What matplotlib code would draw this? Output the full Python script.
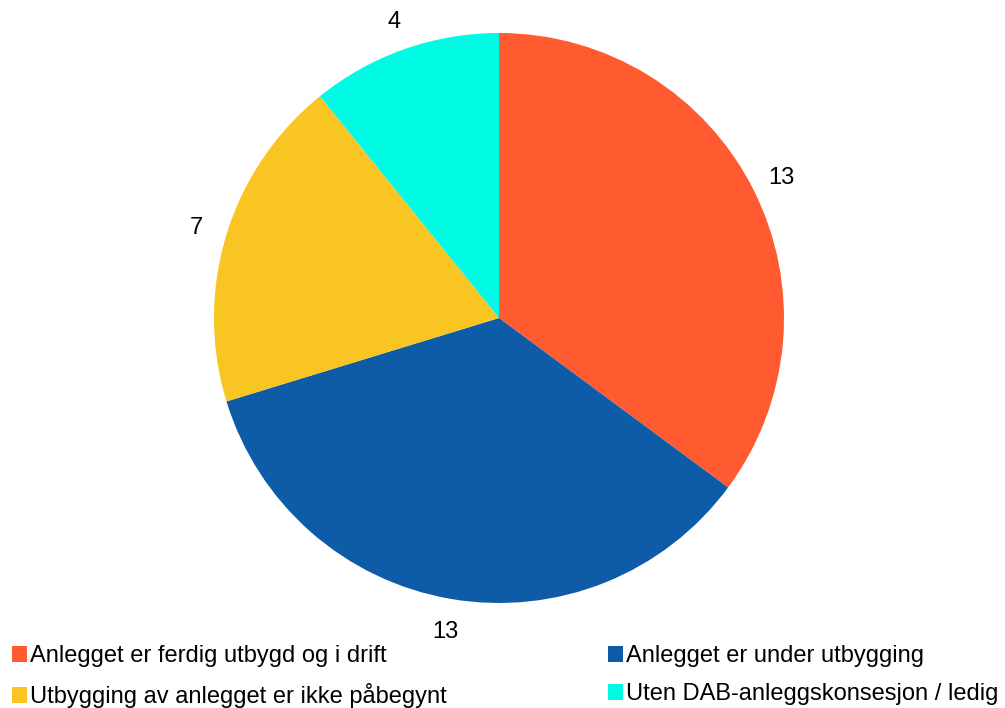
import matplotlib
matplotlib.use("Agg")
import matplotlib.pyplot as plt
from matplotlib.patches import Patch

plt.rcParams['font.family'] = ['Liberation Sans', 'DejaVu Sans']

categories = ["Anlegget er ferdig utbygd og i drift",
              "Anlegget er under utbygging",
              "Utbygging av anlegget er ikke påbegynt",
              "Uten DAB-anleggskonsesjon / ledig"]
values = [13, 13, 7, 4]
colors = ["#FF5A30", "#0E5CA8", "#F8C523", "#00FBE5"]

W, H = 1005, 708
fig = plt.figure(figsize=(W / 100, H / 100), dpi=100)
cx, cy, r = 499, 318, 285
ax = fig.add_axes([(cx - r) / W, (H - cy - r) / H, 2 * r / W, 2 * r / H])
ax.pie(values, colors=colors, startangle=90, counterclock=False,
       labels=[str(v) for v in values], labeldistance=1.11,
       textprops={'fontsize': 17, 'color': '#000000'},
       wedgeprops={'linewidth': 0})
ax.set_xlim(-1, 1)
ax.set_ylim(-1, 1)
ax.set_aspect('equal')
ax.axis('off')
for t in ax.texts:
    t.set_horizontalalignment('center')
    t.set_verticalalignment('center_baseline')

order = [0, 2, 1, 3]
handles = [Patch(facecolor=colors[i], edgecolor='none') for i in order]
labels = [categories[i] for i in order]
fig.legend(handles, labels, loc='upper left', bbox_to_anchor=(12 / W, 1 - 645 / H),
           ncol=2, frameon=False, fontsize=17, borderpad=0, borderaxespad=0,
           handlelength=0.65, handleheight=0.65, handletextpad=0.13,
           columnspacing=6.8, labelspacing=0.68)

fig.savefig("out.png", dpi=100)
